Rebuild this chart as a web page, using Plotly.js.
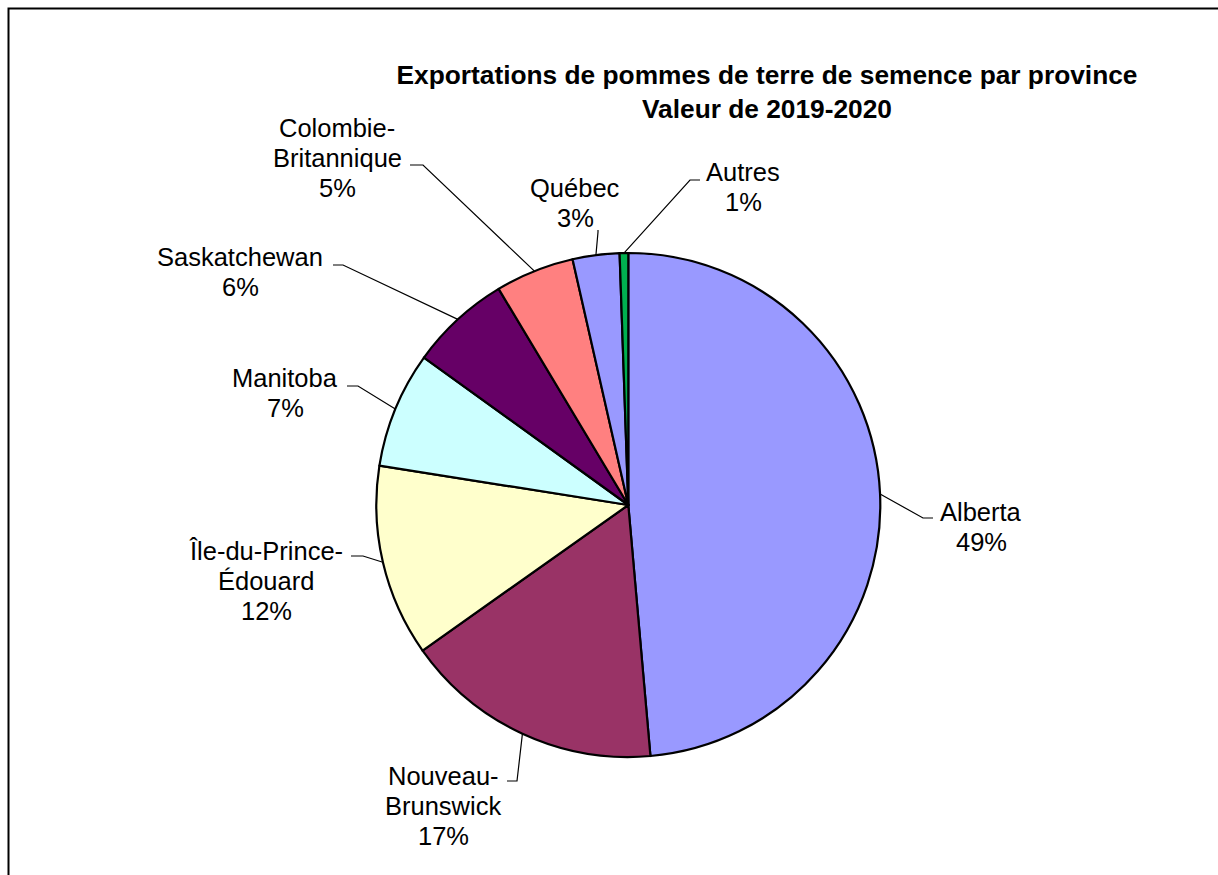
<!DOCTYPE html>
<html>
<head>
<meta charset="utf-8">
<script src="https://cdn.plot.ly/plotly-3.0.1.min.js"></script>
<style>
  html, body { margin: 0; padding: 0; background: #fff; }
  #graph { width: 1218px; height: 875px; }
</style>
</head>
<body>
<div id="graph"></div>
<script>
// data (valeur des exportations, part en %)
var provinces = ['Alberta', 'Nouveau-<br>Brunswick', 'Île-du-Prince-<br>Édouard', 'Manitoba',
                 'Saskatchewan', 'Colombie-<br>Britannique', 'Québec', 'Autres'];
var valeurs = [48.6, 16.6, 12.3, 7.45, 6.45, 5.05, 3.0, 0.55];
var couleurs = ['#9999FF', '#993366', '#FFFFCC', '#CCFFFF', '#660066', '#FF8080', '#9999FF', '#00B050'];

// label placement (pixels): text centre, and elbow / end of the leader line
var W = 1218, H = 875;
var cx = 628.3, cy = 505, R = 252;
var lineGap = 30;
var textPos = [[981, 527], [443, 806], [266, 581], [285, 393], [240, 272], [337, 158], [575, 203], [743, 187]];
var elbow = [[923, 518], [517, 781], [363, 556], [358, 386], [343, 265], [423, 165], [598, 232], [690, 180]];
var lineEnd = [[933, 518], [507, 781], [351, 556], [347, 386], [333, 265], [410, 165], [598, 230], [700, 180]];

function px(x) { return x / W; }
function py(y) { return 1 - y / H; }

var total = valeurs.reduce(function (a, b) { return a + b; }, 0);
var annotations = [];
var shapes = [];
var cum = 0;
valeurs.forEach(function (v, i) {
    var mid = (cum + v / 2) / total * 2 * Math.PI;
    cum += v;
    var ex = cx + R * Math.sin(mid);
    var ey = cy - R * Math.cos(mid);
    // one annotation per text line so the line spacing matches
    var lines = provinces[i].split('<br>');
    lines.push(Math.round(v / total * 100) + '%');
    lines.forEach(function (t, k) {
        annotations.push({
            xref: 'paper', yref: 'paper',
            x: px(textPos[i][0]),
            y: py(textPos[i][1] + (k - (lines.length - 1) / 2) * lineGap),
            xanchor: 'center', yanchor: 'middle',
            text: t,
            showarrow: false,
            font: {family: 'Liberation Sans, Arial, sans-serif', size: 25.5, color: '#000'}
        });
    });
    shapes.push({
        type: 'path', xref: 'paper', yref: 'paper',
        path: 'M' + px(ex) + ',' + py(ey) + ' L' + px(elbow[i][0]) + ',' + py(elbow[i][1]) +
              ' L' + px(lineEnd[i][0]) + ',' + py(lineEnd[i][1]),
        line: {color: '#000', width: 1.2}
    });
});

// frame round the chart
shapes.push({
    type: 'rect', xref: 'paper', yref: 'paper',
    x0: px(8.5), x1: 1.05, y0: -0.05, y1: py(8.5),
    line: {color: '#000', width: 2}
});

var pie = {
    type: 'pie',
    labels: provinces,
    values: valeurs,
    sort: false,
    direction: 'clockwise',
    rotation: 0,
    textinfo: 'none',
    marker: {colors: couleurs, line: {color: '#000', width: 2.2}},
    domain: {x: [px(cx - R), px(cx + R)], y: [py(cy + R), py(cy - R)]},
    hoverinfo: 'label+percent'
};

var layout = {
    width: W,
    height: H,
    margin: {l: 0, r: 0, t: 0, b: 0},
    paper_bgcolor: '#fff',
    showlegend: false,
    title: {
        text: 'Exportations de pommes de terre de semence par province<br>Valeur de 2019-2020',
        x: px(767), xref: 'paper', xanchor: 'center',
        y: py(84), yref: 'paper', yanchor: 'middle',
        font: {family: 'Liberation Sans, Arial, sans-serif', size: 26.3, weight: 'bold', color: '#000'}
    },
    annotations: annotations,
    shapes: shapes
};

Plotly.newPlot('graph', [pie], layout, {staticPlot: true});
</script>
</body>
</html>
